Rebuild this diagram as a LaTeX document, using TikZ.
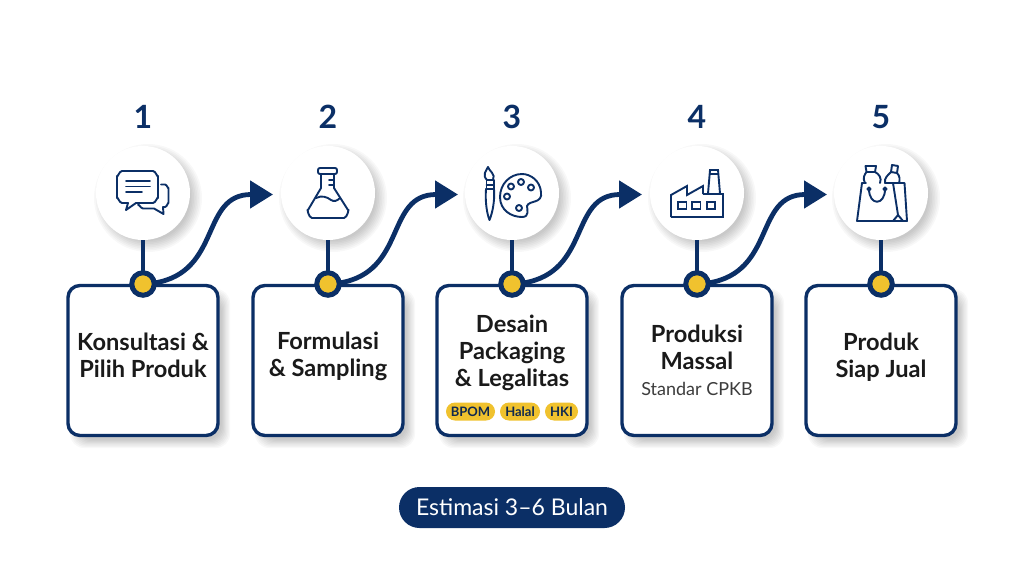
\documentclass[tikz,border=0pt]{standalone}
\usepackage{fontspec}
\setmainfont{Lato}
\usetikzlibrary{arrows.meta}
\definecolor{navy}{HTML}{0B2F66}
\definecolor{gold}{HTML}{F0C22E}
\definecolor{ink}{HTML}{1A1A1A}
\tikzset{
  stepbox/.style={draw=navy,line width=3.4pt,fill=white,rounded corners=12pt,minimum width=150pt,minimum height=150pt,inner sep=0pt,outer sep=0pt},
  iconcircle/.style={circle,fill=white,minimum size=94pt,inner sep=0pt,outer sep=0pt},
  golddot/.style={circle,draw=navy,line width=5pt,fill=gold,minimum size=22.5pt,inner sep=0pt,outer sep=0pt},
  stem/.style={draw=navy,line width=4.5pt},
  flow/.style={draw=navy,line width=4.8pt,-{Triangle[length=23pt,width=27pt]}},
  numeral/.style={text=navy,font=\fontsize{32}{32}\selectfont\bfseries,inner sep=0pt},
  title/.style={text=ink,font=\fontsize{23.6}{27}\selectfont\bfseries,align=center,inner sep=0pt},
  subtitle/.style={text=ink!85,font=\fontsize{18}{20}\selectfont,inner sep=0pt},
  tag/.style={fill=gold,rounded corners=9pt,minimum height=18pt,inner sep=0pt,outer sep=0pt,text=navy!70!ink,font=\fontsize{13}{13}\selectfont\bfseries},
  duration/.style={fill=navy,text=white,rounded corners=20.5pt,minimum width=226pt,minimum height=41pt,inner sep=0pt,font=\fontsize{23}{23}\selectfont},
  icon/.style={draw=navy,line width=1.9pt,line join=round,line cap=round,fill=none},
}
\begin{document}
\begin{tikzpicture}[x=1pt,y=-1pt]
\fill[white] (0,0) rectangle (1024,572);
\useasboundingbox (0,0) rectangle (1024,572);
% soft shadows
\foreach \x in {143,328,512,697,881}{
  \foreach \k in {0,...,7}{
    \fill[black,opacity=0.028] (\x+5,198) circle ({54-\k*1.6});
    \fill[black,opacity=0.028,rounded corners=14pt] (\x-73+\k*1.2,289+\k*1.2) rectangle (\x+87-\k*1.2,448-\k*1.2);
  }
}
% boxes, circles, dots
\foreach \i/\x in {1/143,2/328,3/512,4/697,5/881}{
  \node[stepbox] (b\i) at (\x,360.5) {};
  \node[iconcircle] (c\i) at (\x,193) {};
  \node[numeral] (n\i) at (\x,117) {\i};
  \node[golddot] (d\i) at (\x,284) {};
  \coordinate (t\i) at (\x+130,194.5);
}
% connectors
\foreach \i in {1,...,5}{
  \draw[stem] (c\i.south) -- (d\i.north);
}
\foreach \i in {1,2,3,4}{
  \draw[flow] (d\i.5) .. controls +(68,-11) and +(-73,0) .. (t\i);
}
% titles
\node[title] (l1) at (143,355.5) {Konsultasi \&\\Pilih Produk};
\node[title] (l2) at (328,356.5) {Formulasi\\\& Sampling};
\node[title] (l3) at (512,352.5) {Desain\\Packaging\\\& Legalitas};
\node[title] (l4) at (697,347) {Produksi\\Massal};
\node[subtitle] (s4) at (697,389) {Standar CPKB};
\node[title] (l5) at (881,357.5) {Produk\\Siap Jual};
\node[tag,minimum width=49pt] (p1) at (470.5,411.5) {BPOM};
\node[tag,minimum width=40pt] (p2) at (520,411.5) {Halal};
\node[tag,minimum width=33pt] (p3) at (561.5,411.5) {HKI};
\node[duration] (est) at (512,507.5) {Estimasi 3–6 Bulan};
% icon 1: chat
\draw[icon] (122,171) -- (153,171) to[out=0,in=-90] (158,176) -- (158,198) to[out=90,in=0] (153,203) -- (136,203) -- (126,210) -- (128,203) -- (122,203) to[out=180,in=90] (117,198) -- (117,176) to[out=-90,in=180] cycle;
\draw[icon] (126,181) -- (150,181) (126,186.5) -- (150,186.5) (126,192) -- (142,192);
\draw[icon] (161,184.5) -- (165,184.5) to[out=0,in=-90] (168.5,188) -- (168.5,203) to[out=90,in=0] (165,207) -- (163,207) -- (163.5,214) -- (154,208.5) -- (143,208.5) to[out=180,in=90] (138,205);
% icon 2: flask
\draw[icon,rounded corners=2pt] (318,168) rectangle (337,174);
\draw[icon] (321,174) -- (321,188) -- (308,210) to[out=115,in=180] (312,218) -- (344,218) to[out=0,in=65] (348,210) -- (334,188) -- (334,174);
\draw[icon] (329,180) -- (334,180) (329,185) -- (334,185);
\draw[icon] (316,198) .. controls (322,195) and (327,197) .. (331,200) .. controls (334,202) and (337,201) .. (340,198);
% icon 3: brush and palette
\draw[icon] (487,180) .. controls (482,175) and (486,171) .. (488,167) .. controls (489,171) and (496,174) .. (493,180) -- cycle;
\draw[icon] (486.5,180) -- (486.5,189) (494,180) -- (494,189) (486,189) -- (494,189) (486.5,185) -- (494,185);
\draw[icon] (486,189) .. controls (485,202) and (487,214) .. (489.5,220) .. controls (492,214) and (495,202) .. (494,189);
\draw[icon] (522,174) .. controls (510,174) and (500,184) .. (500,197) .. controls (500,210) and (511,217) .. (522,217) .. controls (530,217) and (527,209) .. (527,206) .. controls (529,200) and (543,204) .. (541,192) .. controls (540,181) and (531,174) .. (522,174) -- cycle;
\foreach \u/\v in {511/186.5,521/182,531/187.5,507/196.5,519/208}{\draw[icon] (\u,\v) circle (3);}
% icon 4: factory
\draw[icon,line cap=butt,line join=miter] (671,217) -- (723,217) -- (723,194) -- (703,194);
\draw[icon,line cap=butt,line join=miter] (671,217) -- (671,195) -- (687,186) -- (687,195) -- (703,186) -- (703,194);
\draw[icon,line cap=butt,line join=miter] (708,193.5) -- (710,170) -- (718,170) -- (720,193.5) (709.5,174) -- (718.5,174);
\draw[icon,line cap=butt,line join=miter] (678,202) rectangle (686.5,209) (692,202) rectangle (700.5,209) (707,202) rectangle (715,209);
% icon 5: bag with bottles
\draw[icon] (862,183) -- (857,221) -- (907,221) -- (904.5,183) -- (893,183);
\draw[icon] (862,183) -- (866,183) (885,183) -- (893,183) -- (898,215) -- (893,221) (898,215) -- (903,221);
\draw[icon] (869,189) .. controls (869,206) and (885,206) .. (885,189);
\draw[icon] (869,189) circle (1.6) (885,189) circle (1.6);
\draw[icon] (865,183) .. controls (862,178) and (865,174) .. (866.5,172) -- (865.5,166) -- (876,166) -- (875,172) .. controls (879,174) and (882,178) .. (880,183);
\draw[icon] (866.5,172) -- (875,172);
\draw[icon] (885,183) .. controls (884,178) and (888,175) .. (891,172) -- (892,165) -- (898,166) -- (897,173) .. controls (900,176) and (900,180) .. (899,183);
\draw[icon] (891,172) -- (897,173);
\end{tikzpicture}
\end{document}
